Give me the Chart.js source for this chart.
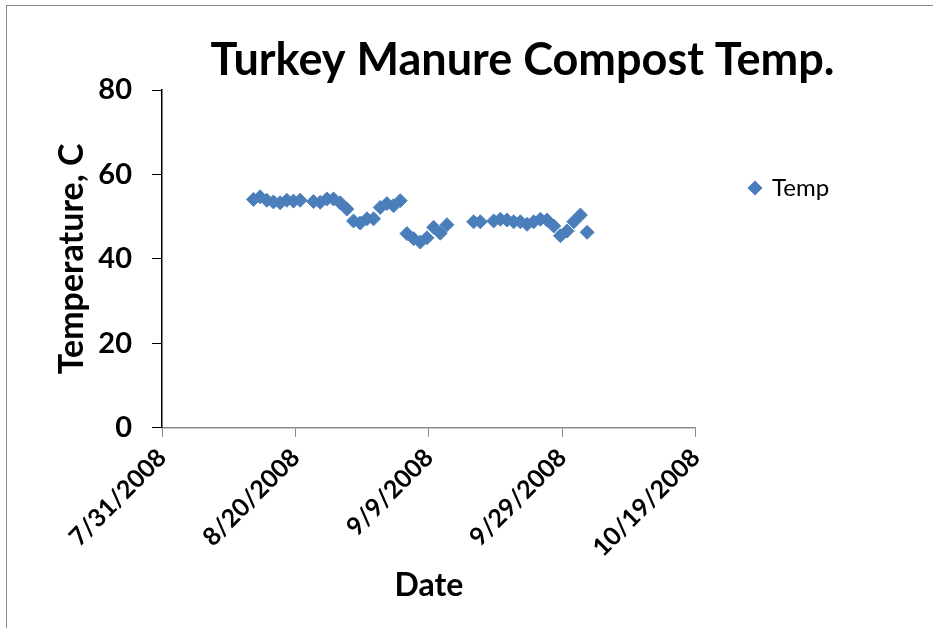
<!DOCTYPE html>
<html>
<head>
<meta charset="utf-8">
<script src="https://cdn.jsdelivr.net/npm/chart.js@4"></script>
<style>
  body { margin: 0; background: #fff; }
  #wrap { position: relative; width: 933px; height: 628px; overflow: hidden; }
  #frame { position: absolute; left: 6px; top: 5px; width: 1000px; height: 700px;
           border-top: 1px solid #8a8a8a; border-left: 1px solid #8a8a8a; }
  canvas { position: absolute; left: 0; top: 0; }
</style>
</head>
<body>
<div id="wrap">
  <div id="frame"></div>
  <canvas id="myChart" width="933" height="628"></canvas>
</div>
<script>
// readings, one per day (a few days missing)
var sampleDates = [
  '8/13/2008', '8/14/2008', '8/15/2008', '8/16/2008', '8/17/2008', '8/18/2008', '8/19/2008', '8/20/2008',
  '8/22/2008', '8/23/2008', '8/24/2008', '8/25/2008', '8/26/2008', '8/27/2008', '8/28/2008', '8/29/2008',
  '8/30/2008', '8/31/2008', '9/1/2008', '9/2/2008', '9/3/2008', '9/4/2008', '9/5/2008', '9/6/2008',
  '9/7/2008', '9/8/2008', '9/9/2008', '9/10/2008', '9/11/2008',
  '9/15/2008', '9/16/2008',
  '9/18/2008', '9/19/2008', '9/20/2008', '9/21/2008', '9/22/2008', '9/23/2008', '9/24/2008', '9/25/2008',
  '9/26/2008', '9/27/2008', '9/28/2008', '9/29/2008', '9/30/2008', '10/1/2008', '10/2/2008'
];
var temps = [
  54.1, 54.7, 53.9, 53.5, 53.3, 53.9, 53.7, 53.9,
  53.6, 53.4, 54.2, 54.2, 53.3, 51.8, 49.0, 48.5,
  49.5, 49.5, 52.2, 53.1, 52.6, 53.8, 46.0, 44.8,
  44.0, 45.0, 47.5, 46.1, 48.1,
  48.8, 48.8,
  49.0, 49.4, 49.2, 48.8, 48.8, 48.2, 48.8, 49.4,
  49.2, 47.8, 45.5, 46.6, 48.8, 50.4, 46.3
];
var readTime = 0.7; // readings taken late in the day

var xTickLabels = ['7/31/2008', '8/20/2008', '9/9/2008', '9/29/2008', '10/19/2008'];
var xMin = '7/31/2008', xMax = '10/19/2008';
var yTicks = [0, 20, 40, 60, 80];

// excel style day number
function serial(s) {
  var p = s.split('/').map(Number);
  return (Date.UTC(p[2], p[0] - 1, p[1]) - Date.UTC(1899, 11, 30)) / 86400000;
}

var points = sampleDates.map(function (d, i) {
  return { x: serial(d) + readTime, y: temps[i] };
});

var FONT = 'Lato, "Open Sans", sans-serif';

// move title/legend where the excel chart has them
var placeBits = {
  id: 'placeBits',
  afterLayout: function (chart) {
    var t = chart.titleBlock;
    t.left += 99; t.right += 99;
    var lg = chart.legend;
    var w = lg.width, h = lg.height;
    lg.left = 740; lg.right = lg.left + w;
    lg.top = 166; lg.bottom = lg.top + h;
  }
};

var ctx = document.getElementById('myChart').getContext('2d');
var chart = new Chart(ctx, {
  type: 'scatter',
  data: {
    datasets: [{
      label: 'Temp',
      data: points,
      pointStyle: 'rectRot',
      pointRadius: 7,
      pointHoverRadius: 7,
      backgroundColor: '#4a7ebb',
      borderColor: '#4f81bd',
      borderWidth: 1
    }]
  },
  options: {
    responsive: false,
    animation: false,
    layout: { padding: { left: 52, right: 138, top: 0, bottom: 23 } },
    plugins: {
      title: {
        display: true,
        text: 'Turkey Manure Compost Temp.',
        color: '#000',
        font: { family: FONT, size: 45, weight: 'bold' },
        padding: { top: 33, bottom: 3 }
      },
      legend: {
        position: 'right',
        align: 'start',
        labels: {
          usePointStyle: true,
          boxWidth: 10,
          boxHeight: 10,
          padding: 10,
          color: '#000',
          font: { family: FONT, size: 24 }
        }
      },
      tooltip: { enabled: false }
    },
    scales: {
      x: {
        type: 'linear',
        min: serial(xMin),
        max: serial(xMax),
        // rotated first label hangs under the y axis, don't reserve room for it
        afterFit: function (scale) { scale.paddingLeft = 0; },
        grid: { display: true, drawOnChartArea: false, color: '#8a8a8a', tickLength: 9 },
        border: { color: '#8a8a8a', width: 1.5 },
        ticks: {
          stepSize: 20,
          maxRotation: 45,
          minRotation: 45,
          padding: 6,
          color: '#000',
          font: { family: FONT, size: 25, weight: 'bold' },
          callback: function (v, i) { return xTickLabels[i]; }
        },
        title: {
          display: true,
          text: 'Date',
          color: '#000',
          font: { family: FONT, size: 32, weight: 'bold' },
          padding: { top: -2, bottom: 0 }
        }
      },
      y: {
        min: 0,
        max: 80,
        afterBuildTicks: function (axis) {
          axis.ticks = yTicks.map(function (v) { return { value: v }; });
        },
        // fit() leaves ~20px of slack here, trim it
        afterFit: function (scale) { scale.width = 110; },
        grid: { display: true, drawOnChartArea: false, color: '#000', tickLength: 10 },
        border: { color: '#000', width: 1.5 },
        ticks: {
          padding: 20,
          color: '#000',
          font: { family: FONT, size: 29, weight: 'bold' }
        },
        title: {
          display: true,
          text: 'Temperature, C',
          color: '#000',
          font: { family: FONT, size: 34, weight: 'bold' },
          padding: { top: 0, bottom: 6 }
        }
      }
    }
  },
  plugins: [placeBits]
});
</script>
</body>
</html>
